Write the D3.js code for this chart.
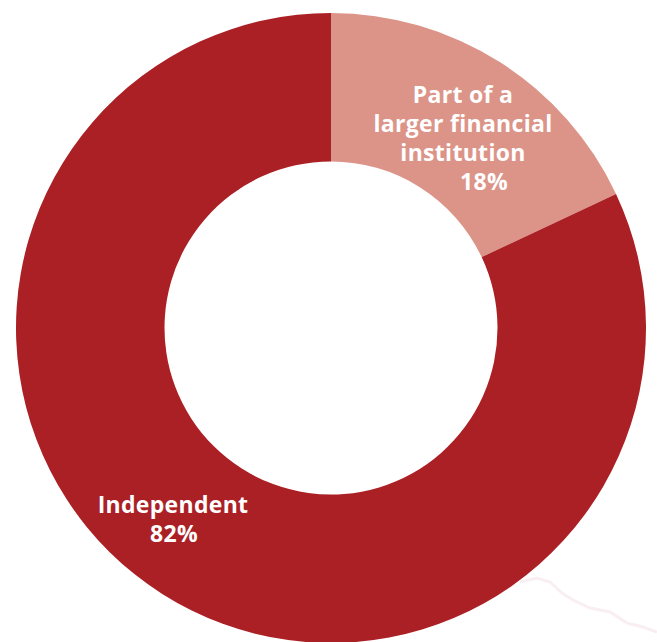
<!DOCTYPE html>
<html>
<head>
<meta charset="utf-8">
<script src="https://cdn.jsdelivr.net/npm/d3@7"></script>
<style>
  html, body { margin: 0; padding: 0; background: #ffffff; }
  svg { display: block; }
  .lbl { font-family: "Open Sans", "Noto Sans", sans-serif; font-weight: 700; fill: #ffffff; letter-spacing: 0.3px; }
</style>
</head>
<body>
<svg id="chart" width="657" height="642"></svg>
<script>
// Ownership structure shares
const categories = ["Part of a larger financial institution", "Independent"];
const shares = [18, 82];
const labelLines = [["Part of a", "larger financial", "institution"], ["Independent"]];
const pctLabels = ["18%", "82%"];
const colors = ["#dc9488", "#ab2025"];

const svg = d3.select("#chart");
const cx = 331, cy = 328;
const outerR = 315, innerR = 166.5;

const g = svg.append("g").attr("transform", `translate(${cx},${cy})`);

const pie = d3.pie().sort(null).value(d => d.value);
const arcs = pie(categories.map((c, i) => ({ name: c, value: shares[i], i })));

const arc = d3.arc().innerRadius(innerR).outerRadius(outerR);
const color = d3.scaleOrdinal().domain(categories).range(colors);

g.selectAll("path.slice")
  .data(arcs)
  .join("path")
  .attr("class", "slice")
  .attr("d", arc)
  .attr("fill", d => color(d.data.name));

// Label anchors placed inside the ring
const labelPos = [
  { dx: 132, dy: -225, pdx: 153 },
  { dx: -158, dy: 185, pdx: -157 }
];
const lineH = 29;

arcs.forEach((a, i) => {
  const p = labelPos[i];
  const lines = labelLines[i];
  const t = g.append("text")
    .attr("class", "lbl")
    .attr("text-anchor", "middle")
    .style("font-size", "23px");
  lines.forEach((ln, k) => {
    t.append("tspan").attr("x", p.dx).attr("y", p.dy + k * lineH).text(ln);
  });
  t.append("tspan").attr("x", p.pdx).attr("y", p.dy + lines.length * lineH).text(pctLabels[i]);
});

// faint stroke along the lower right edge
svg.append("path")
  .attr("d", d3.line()([[520,582],[537,578],[550,582],[562,593],[573,600],[590,608],[610,612],[627,623],[643,627],[657,632]]))
  .attr("fill", "none")
  .attr("stroke", "#f9eef2")
  .attr("stroke-width", 3);
</script>
</body>
</html>
